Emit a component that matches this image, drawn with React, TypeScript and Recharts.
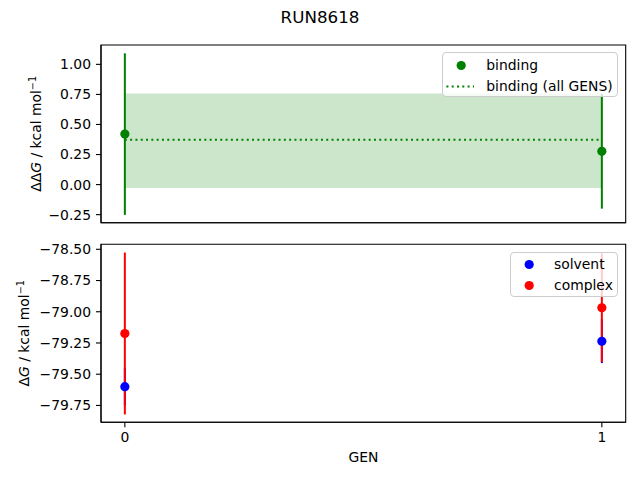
import React from 'react';
import { ComposedChart, Scatter, Line, XAxis, YAxis, ErrorBar, ReferenceArea, Legend } from 'recharts';

// data
const gens = [0, 1];
const genTicks = [0, 1];
const bindingValues = [0.42, 0.277];
const bindingErrors = [0.672, 0.477];
const bindingAll = 0.372;
const bindingAllLow = -0.028;
const bindingAllHigh = 0.758;
const solventValues = [-79.6, -79.236];
const solventErrors = [0.15, 0.175];
const complexValues = [-79.174, -78.968];
const complexErrors = [0.648, 0.435];
const topTicks = [-0.25, 0, 0.25, 0.5, 0.75, 1.0];
const bottomTicks = [-79.75, -79.5, -79.25, -79.0, -78.75, -78.5];
const topLegend = ['binding', 'binding (all GENS)'];
const bottomLegend = ['solvent', 'complex'];

const xDomain = [-0.05, 1.05];
const topDomain = [-0.317, 1.161];
const bottomDomain = [-79.885, -78.46];

const FONT = '"DejaVu Sans", sans-serif';
const GREEN = '#008000';
const BLUE = '#0000ff';
const RED = '#ff0000';
const DOT_R = 4.6;

const bindingRows = gens.map((gen, i) => ({ gen, value: bindingValues[i], err: bindingErrors[i] }));
const bindingAllRows = gens.map((gen) => ({ gen, all: bindingAll }));
const solventRows = gens.map((gen, i) => ({ gen, value: solventValues[i], err: solventErrors[i] }));
const complexRows = gens.map((gen, i) => ({ gen, value: complexValues[i], err: complexErrors[i] }));

const fmt = (v: number) => v.toFixed(2).replace('-', '\u2212');
const tickStyle = { fontSize: 13.9, fill: '#000', fontFamily: FONT };

const dot = (color: string) => (props: any) => <circle cx={props.cx} cy={props.cy} r={DOT_R} fill={color} />;
const hidden = () => <g />;

const yTitle = (prefix: string, baseX: number) => (props: any) => {
  const vb = props.viewBox;
  const y = vb.y + vb.height / 2;
  return (
    <text x={baseX} y={y} transform={`rotate(-90 ${baseX} ${y})`} textAnchor="middle"
      fontSize={13.9} fontFamily={FONT} fill="#000">
      {prefix}<tspan fontStyle="italic">G</tspan> / kcal mol<tspan dy={-5} fontSize={9.7}>{'\u22121'}</tspan>
    </text>
  );
};

const legendBox = (labels: string[], kinds: string[], colors: string[], w: number) => () => (
  <div style={{
    position: 'relative', width: w, height: 45, boxSizing: 'border-box',
    border: '1px solid #cccccc', borderRadius: 4, background: 'rgba(255,255,255,0.8)',
    fontFamily: FONT, fontSize: 13.9, color: '#000'
  }}>
    {labels.map((label, i) => (
      <div key={label} style={{ position: 'absolute', left: 0, top: 1.4 + i * 21, height: 21, width: w }}>
        <svg width={36} height={21} style={{ position: 'absolute', left: 0, top: 0 }}>
          {kinds[i] === 'dot'
            ? <circle cx={18.2} cy={10.5} r={DOT_R} fill={colors[i]} />
            : <line x1={3.4} x2={31} y1={10.5} y2={10.5} stroke={colors[i]} strokeWidth={2} strokeDasharray="2 3.3" />}
        </svg>
        <span style={{ position: 'absolute', left: 43, top: 0, lineHeight: '21px', whiteSpace: 'nowrap' }}>{label}</span>
      </div>
    ))}
  </div>
);

export default function App() {
  return (
    <div style={{ position: 'absolute', left: 0, top: 0, width: 640, height: 480, background: '#fff', fontFamily: FONT }}>
      <div style={{ position: 'absolute', left: 0, top: 7, width: 640, textAlign: 'center', fontSize: 16.7, lineHeight: '20px' }}>
        RUN8618
      </div>

      <div style={{ position: 'absolute', left: 0, top: 0 }}>
        <ComposedChart width={640} height={240} margin={{ top: 45, right: 14.3, bottom: 7.3, left: 41 }}>
          <XAxis dataKey="gen" type="number" domain={xDomain} ticks={genTicks} allowDataOverflow
            tick={false} tickSize={5} height={10} axisLine={{ stroke: '#000', strokeWidth: 1.1 }}
            tickLine={{ stroke: '#000', strokeWidth: 1.1 }} />
          <YAxis type="number" domain={topDomain} ticks={topTicks} allowDataOverflow width={60}
            tickFormatter={fmt} tick={tickStyle} tickSize={5} tickMargin={5}
            axisLine={{ stroke: '#000', strokeWidth: 1.1 }} tickLine={{ stroke: '#000', strokeWidth: 1.1 }}
            label={{ content: yTitle('\u0394\u0394', 41) }} />
          <ReferenceArea x1={gens[0]} x2={gens[1]} y1={bindingAllLow} y2={bindingAllHigh}
            fill={GREEN} fillOpacity={0.2} stroke="none" />
          <Scatter data={bindingRows} dataKey="value" shape={dot(GREEN)} isAnimationActive={false} />
          <Line data={bindingAllRows} dataKey="all" stroke={GREEN} strokeWidth={2} strokeDasharray="2 3.3"
            dot={false} activeDot={false} isAnimationActive={false} />
          <Scatter data={bindingRows} dataKey="value" shape={hidden} isAnimationActive={false}>
            <ErrorBar dataKey="err" direction="y" width={0} stroke={GREEN} strokeWidth={2} />
          </Scatter>
          <ReferenceArea x1={xDomain[0]} x2={xDomain[1]} y1={topDomain[0]} y2={topDomain[1]}
            fill="none" stroke="#000" strokeWidth={1.1} />
          <Legend layout="vertical" align="center" verticalAlign="middle"
            content={legendBox(topLegend, ['dot', 'line'], [GREEN, GREEN], 176)}
            wrapperStyle={{ position: 'absolute', left: 442.3, top: 52.3, width: 176, height: 45, bottom: 'auto', right: 'auto' }} />
        </ComposedChart>
      </div>

      <div style={{ position: 'absolute', left: 0, top: 240 }}>
        <ComposedChart width={640} height={240} margin={{ top: 4.3, right: 14.3, bottom: 27.7, left: 41 }}>
          <XAxis dataKey="gen" type="number" domain={xDomain} ticks={genTicks} allowDataOverflow
            tick={tickStyle} tickSize={5} tickMargin={5} height={30}
            axisLine={{ stroke: '#000', strokeWidth: 1.1 }} tickLine={{ stroke: '#000', strokeWidth: 1.1 }}
            label={{
              content: (p: any) => (
                <text x={p.viewBox.x + p.viewBox.width / 2} y={p.viewBox.y + 40} textAnchor="middle"
                  fontSize={13.9} fontFamily={FONT} fill="#000">GEN</text>
              )
            }} />
          <YAxis type="number" domain={bottomDomain} ticks={bottomTicks} allowDataOverflow width={60}
            tickFormatter={fmt} tick={tickStyle} tickSize={5} tickMargin={5}
            axisLine={{ stroke: '#000', strokeWidth: 1.1 }} tickLine={{ stroke: '#000', strokeWidth: 1.1 }}
            label={{ content: yTitle('\u0394', 29) }} />
          <Scatter data={solventRows} dataKey="value" shape={dot(BLUE)} isAnimationActive={false} />
          <Scatter data={complexRows} dataKey="value" shape={dot(RED)} isAnimationActive={false} />
          <Scatter data={solventRows} dataKey="value" shape={hidden} isAnimationActive={false}>
            <ErrorBar dataKey="err" direction="y" width={0} stroke={BLUE} strokeWidth={2} />
          </Scatter>
          <Scatter data={complexRows} dataKey="value" shape={hidden} isAnimationActive={false}>
            <ErrorBar dataKey="err" direction="y" width={0} stroke={RED} strokeWidth={2} />
          </Scatter>
          <ReferenceArea x1={xDomain[0]} x2={xDomain[1]} y1={bottomDomain[0]} y2={bottomDomain[1]}
            fill="none" stroke="#000" strokeWidth={1.1} />
          <Legend layout="vertical" align="center" verticalAlign="middle"
            content={legendBox(bottomLegend, ['dot', 'dot'], [BLUE, RED], 108.3)}
            wrapperStyle={{ position: 'absolute', left: 510, top: 11.7, width: 108.3, height: 45, bottom: 'auto', right: 'auto' }} />
        </ComposedChart>
      </div>
    </div>
  );
}
